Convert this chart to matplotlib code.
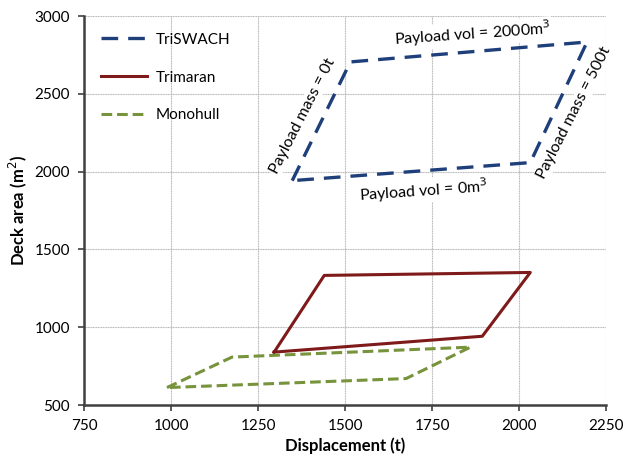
import matplotlib
matplotlib.use("Agg")
import matplotlib.pyplot as plt

plt.rcParams['font.family'] = ['Lato', 'DejaVu Sans']

# Data (displacement t, deck area m2)
tri_x = [1348, 1515, 2195, 2032, 1348]
tri_y = [1942, 2705, 2833, 2058, 1942]
trim_x = [1296, 1440, 2032, 1894, 1296]
trim_y = [840, 1333, 1352, 942, 840]
mono_x = [988, 1175, 1860, 1675, 988]
mono_y = [612, 808, 872, 670, 612]

xticks = [750, 1000, 1250, 1500, 1750, 2000, 2250]
yticks = [500, 1000, 1500, 2000, 2500, 3000]

fig = plt.figure(figsize=(6.23, 4.59), dpi=100)
ax = fig.add_axes([0.135, 0.1176, 0.838, 0.8475])

ax.plot(tri_x, tri_y, color='#1F3F7A', lw=2.4, dashes=(5, 3), label='TriSWACH', zorder=3)
ax.plot(trim_x, trim_y, color='#7F1A1A', lw=2.2, label='Trimaran', zorder=3)
ax.plot(mono_x, mono_y, color='#77933C', lw=2.2, dashes=(3.5, 1.6), label='Monohull', zorder=3)

ax.set_xlim(750, 2250)
ax.set_ylim(500, 3000)
ax.set_xticks(xticks)
ax.set_yticks(yticks)
ax.grid(True, color='#B8B8B8', lw=0.8, linestyle=(0, (1, 0.5)), zorder=0)
ax.set_axisbelow(True)
for s in ['top', 'right']:
    ax.spines[s].set_visible(False)
for s in ['left', 'bottom']:
    ax.spines[s].set_color('#404040')
    ax.spines[s].set_linewidth(1.8)
ax.tick_params(axis='both', direction='out', length=4, width=1.2, color='#404040',
               labelsize=11, pad=6)
ax.set_xlabel('Displacement (t)', fontsize=12, fontweight='bold', labelpad=3)
ax.set_ylabel('Deck area (m$^2$)', fontsize=12, fontweight='bold', labelpad=4)

leg = ax.legend(loc='upper left', bbox_to_anchor=(0.0, 1.0), frameon=False, fontsize=11,
                labelspacing=1.55, handlelength=3.0, handletextpad=0.6, borderaxespad=0.7)

bbox = dict(facecolor='white', edgecolor='none', pad=1)
ax.text(1865, 2885, 'Payload vol = 2000m$^3$', fontsize=11.5, rotation=4,
        ha='center', va='center', bbox=bbox, zorder=4)
ax.text(1725, 1880, 'Payload vol = 0m$^3$', fontsize=11.5, rotation=4,
        ha='center', va='center', bbox=bbox, zorder=4)
ax.text(1378, 2360, 'Payload mass = 0t', fontsize=11.5, rotation=63,
        ha='center', va='center', bbox=bbox, zorder=4)
ax.text(2158, 2380, 'Payload mass = 500t', fontsize=11.5, rotation=63,
        ha='center', va='center', bbox=bbox, zorder=4)

fig.savefig('out.png', dpi=100)
